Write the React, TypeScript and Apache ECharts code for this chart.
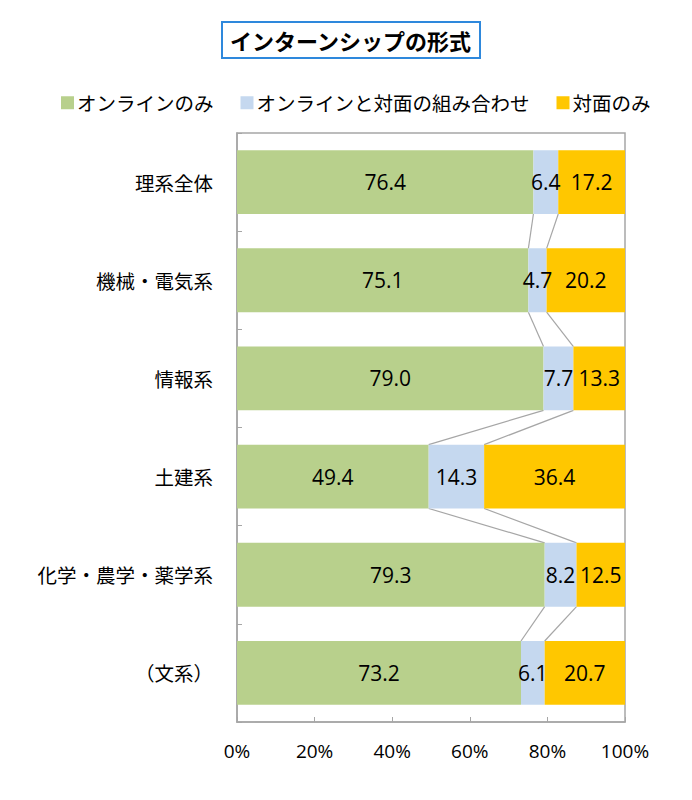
import React, { useEffect, useRef } from 'react';
import * as echarts from 'echarts';

const categories = ['理系全体', '機械・電気系', '情報系', '土建系', '化学・農学・薬学系', '（文系）'];
const onlineOnly = [76.4, 75.1, 79.0, 49.4, 79.3, 73.2];
const mixed = [6.4, 4.7, 7.7, 14.3, 8.2, 6.1];
const faceOnly = [17.2, 20.2, 13.3, 36.4, 12.5, 20.7];
const xTicks = [0, 20, 40, 60, 80, 100];

const JP = '"Noto Sans CJK JP", "Noto Sans", sans-serif';
const NUM = '"Open Sans", "Noto Sans", sans-serif';
const BORDER = '#a6a6a6';
const BAR_RATIO = 0.65;

const App: React.FC = () => {
  const chartRef = useRef<HTMLDivElement>(null);

  useEffect(() => {
    if (!chartRef.current) return;
    const chart = echarts.init(chartRef.current, undefined, { renderer: 'svg' });

    // cumulative ends of the first two segments, for the connector lines
    const greenEnd = onlineOnly;
    const blueEnd = onlineOnly.map((v, i) => v + mixed[i]);
    const links = categories.slice(0, -1).map((_, i) => [greenEnd[i], i]);

    const label = {
      show: true,
      position: 'inside',
      color: '#000',
      fontFamily: NUM,
      fontSize: 21,
      formatter: (p: any) => Number(p.value).toFixed(1),
    };

    const option: any = {
      animation: false,
      title: {
        text: 'インターンシップの形式',
        left: 222,
        top: 22,
        padding: [7, 8, 7, 8],
        borderColor: '#2e88dc',
        borderWidth: 2,
        textStyle: { fontFamily: JP, fontSize: 22, fontWeight: 'bold', color: '#000' },
      },
      legend: {
        top: 88,
        left: 56,
        itemWidth: 13,
        itemHeight: 13,
        itemGap: 27,
        icon: 'rect',
        textStyle: { fontFamily: JP, fontSize: 19.5, color: '#000', padding: [0, 0, 0, -2] },
        data: ['オンラインのみ', 'オンラインと対面の組み合わせ', '対面のみ'],
      },
      grid: {
        left: 237,
        right: 67,
        top: 133,
        bottom: 78,
        show: true,
        borderColor: BORDER,
        borderWidth: 1.5,
      },
      xAxis: {
        type: 'value',
        min: 0,
        max: 100,
        interval: 20,
        axisLine: { show: true, lineStyle: { color: BORDER, width: 1.5 } },
        axisTick: { show: true, inside: true, length: 5, lineStyle: { color: BORDER } },
        splitLine: { show: false },
        axisLabel: {
          margin: 19,
          color: '#000',
          fontFamily: NUM,
          fontSize: 19,
          formatter: (v: number) => (xTicks.includes(v) ? v + '%' : ''),
        },
      },
      yAxis: {
        type: 'category',
        inverse: true,
        data: categories,
        axisLine: { show: true, lineStyle: { color: BORDER, width: 1.5 } },
        axisTick: { show: true, inside: true, length: 5, lineStyle: { color: BORDER } },
        axisLabel: { margin: 24, color: '#000', fontFamily: JP, fontSize: 19.5 },
      },
      series: [
        {
          name: 'オンラインのみ',
          type: 'bar',
          stack: 'total',
          barWidth: BAR_RATIO * 100 + '%',
          itemStyle: { color: '#b8d08c' },
          label,
          data: onlineOnly,
        },
        {
          name: 'オンラインと対面の組み合わせ',
          type: 'bar',
          stack: 'total',
          barWidth: BAR_RATIO * 100 + '%',
          itemStyle: { color: '#c5d8ef' },
          label,
          data: mixed,
        },
        {
          name: '対面のみ',
          type: 'bar',
          stack: 'total',
          barWidth: BAR_RATIO * 100 + '%',
          itemStyle: { color: '#ffc700' },
          label,
          data: faceOnly,
        },
        {
          type: 'custom',
          silent: true,
          encode: { x: 0, y: 1 },
          data: links,
          z: 1,
          renderItem: (params: any, api: any) => {
            const i = params.dataIndex;
            const half = (api.size([0, 1])[1] * BAR_RATIO) / 2;
            const seg = (a: number, b: number) => {
              const p1 = api.coord([a, i]);
              const p2 = api.coord([b, i + 1]);
              return {
                type: 'line',
                shape: { x1: p1[0], y1: p1[1] + half, x2: p2[0], y2: p2[1] - half },
                style: { stroke: '#a6a6a6', lineWidth: 1.2 },
              };
            };
            return {
              type: 'group',
              children: [seg(greenEnd[i], greenEnd[i + 1]), seg(blueEnd[i], blueEnd[i + 1])],
            };
          },
        },
      ],
    };

    chart.setOption(option);
    return () => {
      chart.dispose();
    };
  }, []);

  return (
    <div
      ref={chartRef}
      style={{ position: 'absolute', left: 0, top: 0, width: 692, height: 800, background: '#fff' }}
    />
  );
};

export default App;
